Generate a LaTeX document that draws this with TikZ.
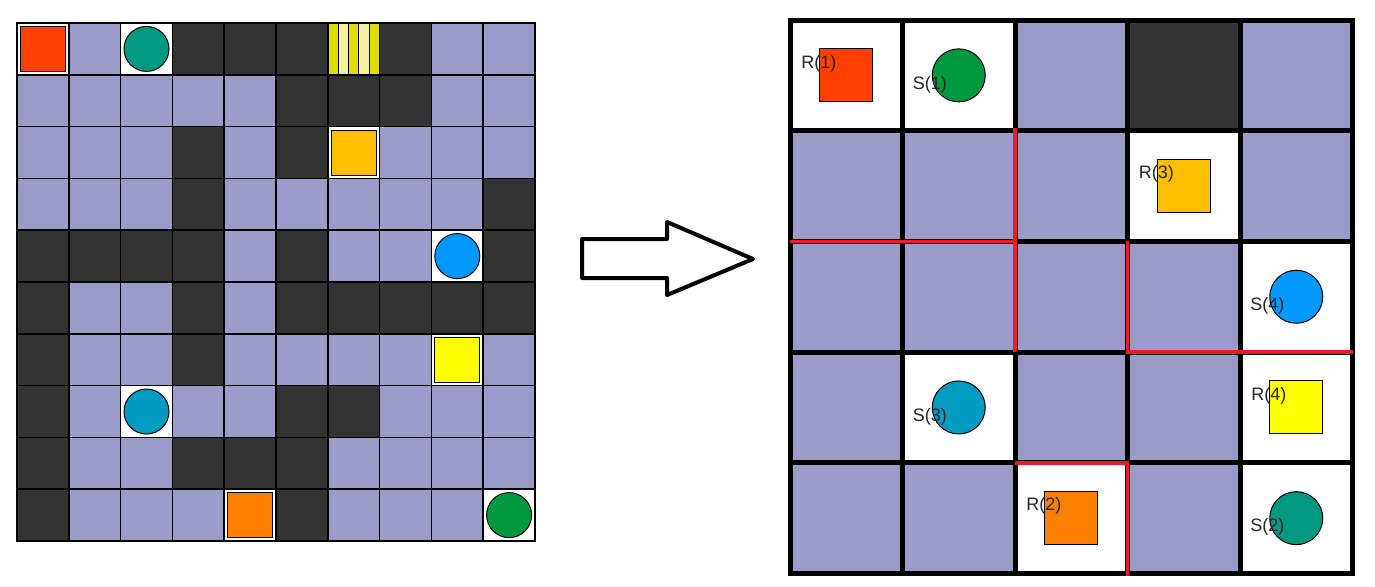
\documentclass[tikz,border=0pt]{standalone}
\usepackage{fontspec}
\setmainfont{Liberation Sans}
\usetikzlibrary{positioning}
\definecolor{lav}{RGB}{155,155,200}
\definecolor{wall}{RGB}{51,51,51}
\definecolor{cRed}{RGB}{255,64,0}
\definecolor{cTeal}{RGB}{0,153,128}
\definecolor{cAmber}{RGB}{255,191,0}
\definecolor{cBlue}{RGB}{0,153,255}
\definecolor{cYellow}{RGB}{255,255,0}
\definecolor{cCyan}{RGB}{0,155,192}
\definecolor{cOrange}{RGB}{255,128,0}
\definecolor{cGreen}{RGB}{0,153,64}
\definecolor{cut}{RGB}{237,28,36}
\definecolor{stripeA}{RGB}{221,221,0}
\definecolor{stripeB}{RGB}{240,240,160}
\tikzset{
  rbox/.pic={
      \draw[fill=#1, line width=0.5pt] (-\objr,-\objr) rectangle (\objr,\objr);
    },
  sdot/.pic={
      \draw[fill=#1, line width=0.5pt] (0,0) circle [radius=\objr];
    },
  lbl/.style={inner sep=0pt, anchor=west, text=black!85,
      font=\fontsize{9}{10}\selectfont},
  cutline/.style={cut, line width=1.7pt},
}

\begin{document}
\begin{tikzpicture}[x=0.5pt, y=-0.5pt]
      \useasboundingbox (0,0) rectangle (1375,586);

      % big map
      \begin{scope}[shift={(17,23)}, x=25.9pt, y=-25.9pt]
        \def\objr{11.25pt}
        \fill[lav] (0,0) rectangle (10,10);
        \foreach \c/\r in {3/0,4/0,5/0,7/0, 5/1,6/1,7/1, 3/2,5/2, 3/3,9/3,
            0/4,1/4,2/4,3/4,5/4,9/4, 0/5,3/5,5/5,6/5,7/5,8/5,9/5, 0/6,3/6,
            0/7,5/7,6/7, 0/8,3/8,4/8,5/8, 0/9,5/9}{
            \fill[wall] (\c,\r) rectangle +(1,1);
          }
        \foreach \c/\r in {0/0,2/0,6/2,8/4,8/6,2/7,4/9,9/9}{
            \fill[white] (\c,\r) rectangle +(1,1);
          }
        \foreach \k/\col in {0/stripeA,1/stripeB,2/stripeA,3/stripeB,4/stripeA}{
            \filldraw[fill=\col, draw=black, line width=0.5pt]
            (6+\k*0.2,0) rectangle +(0.2,1);
          }
        \foreach \i in {1,...,9}{
            \draw[line width=0.8pt] (\i,0) -- (\i,10);
            \draw[line width=0.8pt] (0,\i) -- (10,\i);
          }
        \draw[line width=0.8pt] (0,0) rectangle (10,10);

        \foreach \c/\r/\col in {0/0/cRed, 6/2/cAmber, 8/6/cYellow, 4/9/cOrange}{
            \pic at (\c+0.5,\r+0.5) {rbox=\col};
          }
        \foreach \c/\r/\col in {2/0/cTeal, 8/4/cBlue, 2/7/cCyan, 9/9/cGreen}{
            \pic at (\c+0.5,\r+0.5) {sdot=\col};
          }
      \end{scope}

      % arrow
      \draw[line width=2pt, line join=round] (582,239) -- (667,239) -- (667,222)
      -- (753,259) -- (667,295) -- (667,278) -- (582,278) -- cycle;

      % reduced map
      \begin{scope}[shift={(790,20)}, x=56.25pt, y=-55.35pt]
        \def\objr{13.25pt}
        \fill[lav] (0,0) rectangle (5,5);
        \fill[wall] (3,0) rectangle +(1,1);
        \foreach \c/\r in {0/0,1/0,3/1,4/2,1/3,4/3,2/4,4/4}{
            \fill[white] (\c,\r) rectangle +(1,1);
          }
        \foreach \i in {1,...,4}{
            \draw[line width=2.5pt] (\i,0) -- (\i,5);
            \draw[line width=2.5pt] (0,\i) -- (5,\i);
          }
        \draw[line width=2.5pt] (0,0) rectangle (5,5);

        \draw[cutline] (0,2) -- (2,2);
        \draw[cutline] (2,0.98) -- (2,3);
        \draw[cutline] (3,2) -- (3,3) -- (5,3);
        \draw[cutline] (2,4) -- (3,4) -- (3,5.02);

        \foreach \c/\r/\col/\n in {0/0/cRed/1, 2/4/cOrange/2, 3/1/cAmber/3, 4/3/cYellow/4}{
            \pic at (\c+0.5,\r+0.5) {rbox=\col};
            \node[lbl] (r\n) at ([xshift=5.5pt,yshift=6pt]\c,\r+0.5) {R(\n)};
          }
        \foreach \c/\r/\col/\n in {1/0/cGreen/1, 4/4/cTeal/2, 1/3/cCyan/3, 4/2/cBlue/4}{
            \pic at (\c+0.5,\r+0.5) {sdot=\col};
            \node[lbl] (s\n) at ([xshift=5pt,yshift=-4.5pt]\c,\r+0.5) {S(\n)};
          }
      \end{scope}
    \end{tikzpicture}
\end{document}
